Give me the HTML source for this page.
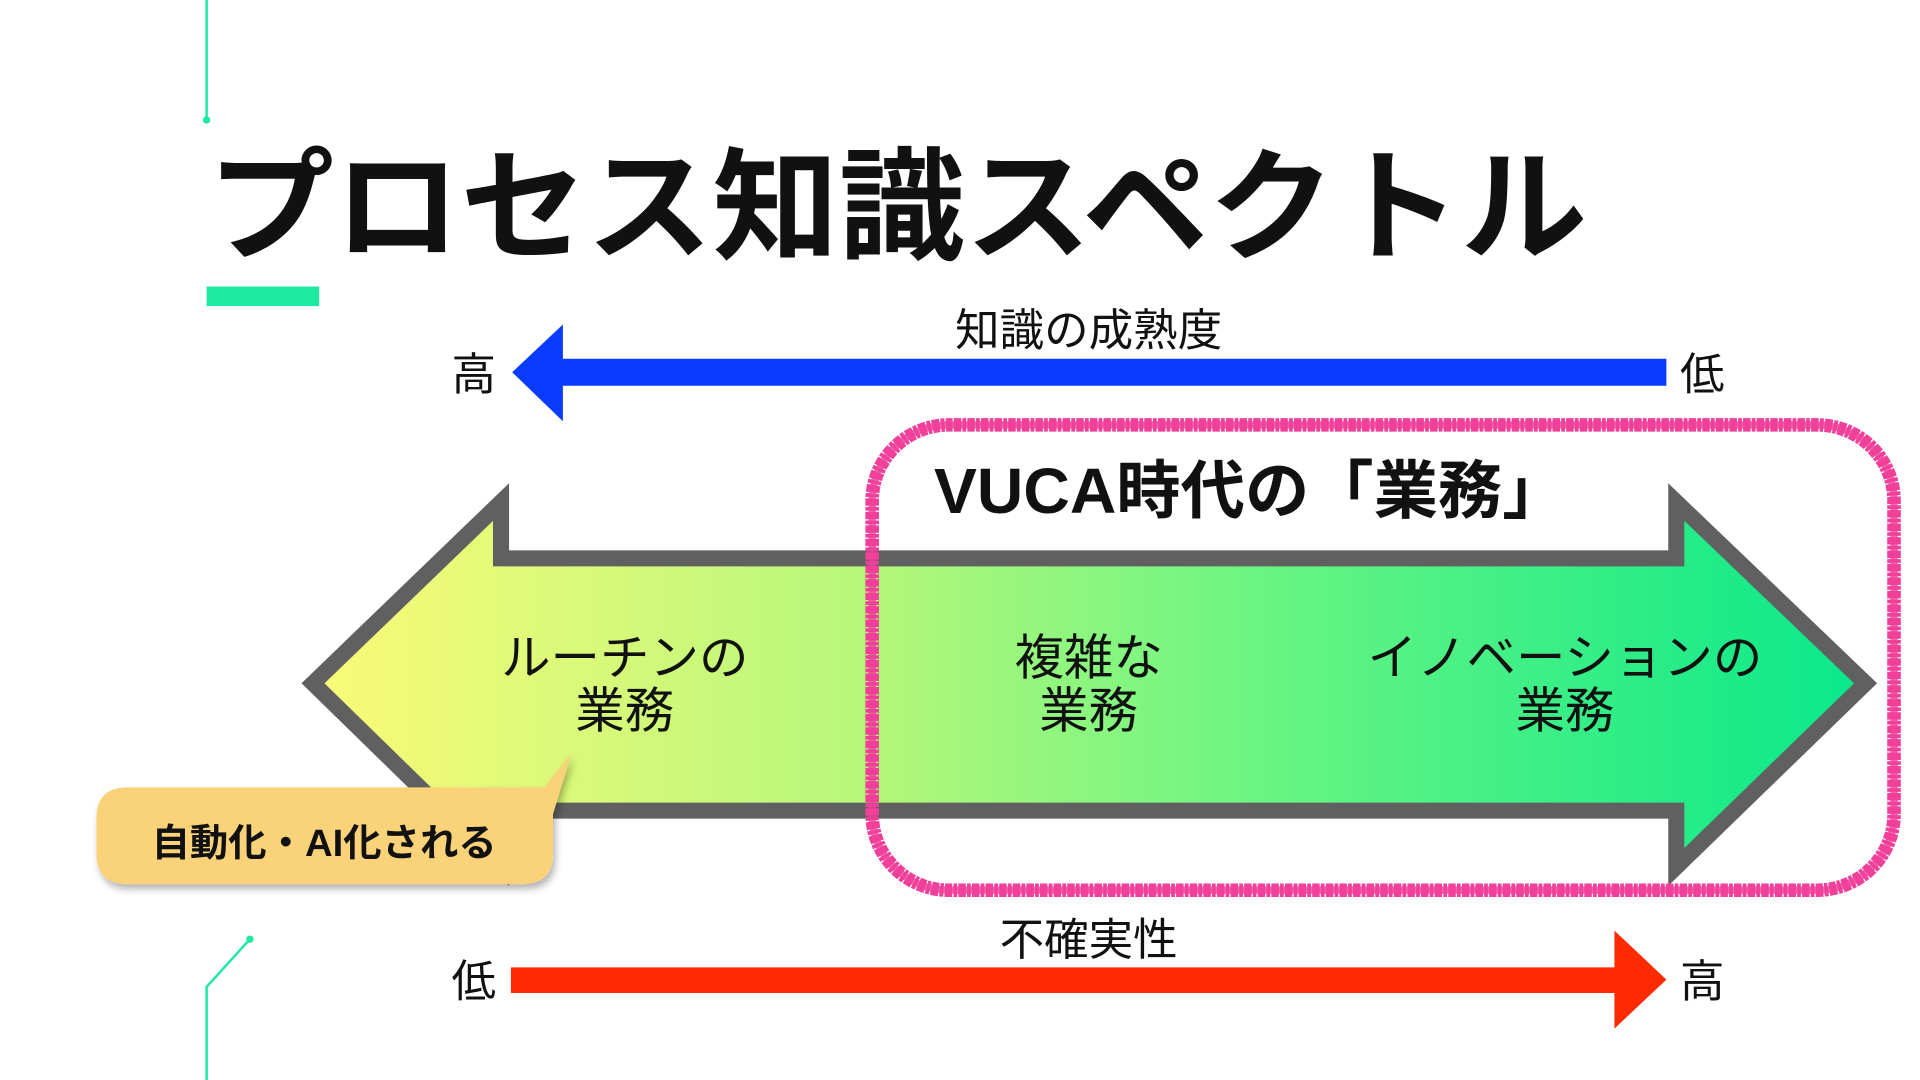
<!DOCTYPE html>
<html><head><meta charset="utf-8"><style>
html,body{margin:0;padding:0;background:#fff;}
svg{display:block;}
text{font-family:"Liberation Sans","Noto Sans CJK JP",sans-serif;}
</style></head><body>
<svg width="1920" height="1080" viewBox="0 0 1552 882" preserveAspectRatio="none" xmlns="http://www.w3.org/2000/svg">
<defs>
<linearGradient id="g" x1="245" y1="0" x2="1518" y2="0" gradientUnits="userSpaceOnUse">
<stop offset="0" stop-color="#fbfb78"/>
<stop offset="0.35" stop-color="#b8f77a"/>
<stop offset="0.6" stop-color="#6cf582"/>
<stop offset="1" stop-color="#06e88a"/>
</linearGradient>
<filter id="sh" x="-10%" y="-10%" width="130%" height="140%"><feDropShadow dx="2" dy="4" stdDeviation="3" flood-color="#000" flood-opacity="0.3"/></filter>
</defs>
<line x1="167" y1="0" x2="167" y2="98" stroke="#1de9a0" stroke-width="2"/>
<circle cx="167" cy="98" r="3" fill="#1de9a0"/>
<polyline points="202,767 167,806 167,882" fill="none" stroke="#1de9a0" stroke-width="2"/>
<circle cx="202" cy="767" r="3" fill="#1de9a0"/>
<text x="168" y="204" font-size="100" font-weight="bold" fill="#111" textLength="1115" lengthAdjust="spacingAndGlyphs">プロセス知識スペクトル</text>
<rect x="167" y="234" width="91" height="16" fill="#1de9a0"/>
<text x="880" y="282" font-size="36" text-anchor="middle" fill="#111">知識の成熟度</text>
<polygon points="414,304 455,265 455,293 1347,293 1347,315 455,315 455,344" fill="#0a3cff"/>
<text x="383" y="318" font-size="36" text-anchor="middle" fill="#111">高</text>
<text x="1376" y="318" font-size="36" text-anchor="middle" fill="#111">低</text>
<polygon points="253,558 405,410 405,456 1355,456 1355,410 1508,558 1355,708 1355,662 405,662 405,708" fill="url(#g)" stroke="#606060" stroke-width="13" stroke-linejoin="miter"/>
<g font-size="40" text-anchor="middle" fill="#111">
<text x="505" y="551">ルーチンの</text><text x="505" y="594">業務</text>
<text x="880" y="551">複雑な</text><text x="880" y="594">業務</text>
<text x="1265" y="551">イノベーションの</text><text x="1265" y="594">業務</text>
</g>
<rect x="705" y="347" width="826" height="380" rx="62" fill="none" stroke="#f0409a" stroke-width="11" stroke-dasharray="3 1 6 1"/>
<rect x="705" y="347" width="826" height="380" rx="62" fill="none" stroke="#f0409a" stroke-width="6" opacity="0.8"/>
<text x="755" y="419" font-size="52" font-weight="bold" fill="#111">VUCA時代の「業務」</text>
<g filter="url(#sh)">
<path d="M103,643 L440,643 L462,615 L447,665 L447,697 Q447,722 422,722 L103,722 Q78,722 78,697 L78,668 Q78,643 103,643 Z" fill="#f9d27a"/>
</g>
<text x="262" y="699" font-size="31" font-weight="bold" text-anchor="middle" fill="#111">自動化・AI化される</text>
<text x="880" y="780" font-size="36" text-anchor="middle" fill="#111">不確実性</text>
<polygon points="1347,800 1305,760 1305,790 413,790 413,811 1305,811 1305,840" fill="#ff2a00"/>
<text x="383" y="814" font-size="36" text-anchor="middle" fill="#111">低</text>
<text x="1376" y="814" font-size="36" text-anchor="middle" fill="#111">高</text>
</svg>
</body></html>
